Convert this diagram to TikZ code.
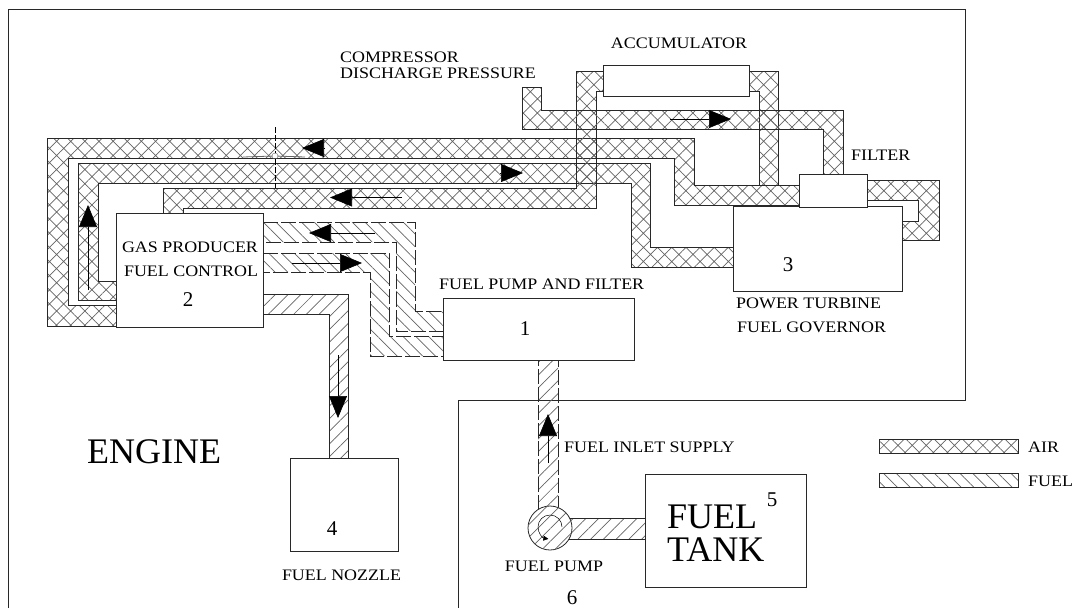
\documentclass[tikz,border=0pt]{standalone}
\usepackage{fontspec}
\usepackage{tikz}
\usetikzlibrary{patterns.meta,arrows.meta}
\setmainfont{Liberation Serif}
\newfontfamily\lblfont[FakeStretch=1.12]{Liberation Serif}
\definecolor{hatchgray}{RGB}{100,100,100}
\definecolor{edgegray}{RGB}{40,40,40}

\begin{document}
\begin{tikzpicture}[x=1pt, y=-1pt, >={Triangle[length=22pt,width=18pt]},
    airpipe/.style={draw=edgegray, line width=0.8pt, pattern={Hatch[angle=45,distance=10pt,line width=0.7pt]}, pattern color=hatchgray},
    fuelline/.style={draw=edgegray, line width=0.8pt, dash pattern=on 15pt off 3pt, pattern={Lines[angle=-45,distance=9pt,line width=0.7pt]}, pattern color=hatchgray},
    nozzleline/.style={draw=edgegray, line width=0.8pt, pattern={Lines[angle=45,distance=9pt,line width=0.7pt]}, pattern color=hatchgray},
    box/.style={rectangle, draw=edgegray, fill=white, line width=0.9pt, inner sep=0pt, outer sep=0pt},
    lbl/.style={inner sep=0pt, font=\lblfont\fontsize{16}{18}\selectfont},
    num/.style={inner sep=0pt, font=\fontsize{21}{23}\selectfont},
    big/.style={inner sep=0pt, font=\fontsize{36}{33}\selectfont},
    flow/.style={->, line width=0.6pt}]

\useasboundingbox (0,0) rectangle (1081,608);

% engine outline
\draw [edgegray, line width=0.9pt] (8,608) -- (8,9) -- (965,9) -- (965,400) -- (458,400) -- (458,608);

% air lines
\draw [airpipe] (116,326) -- (47,326) -- (47,138.5) -- (694,138.5) -- (694,185) -- (799,185) -- (799,205) -- (674,205) -- (674,158) -- (68,158) -- (68,305) -- (116,305) -- cycle;
\draw [airpipe] (116,300) -- (78,300) -- (78,163) -- (650,163) -- (650,247) -- (733,247) -- (733,267) -- (631,267) -- (631,183) -- (98,183) -- (98,281) -- (116,281) -- cycle;
\draw [airpipe] (163,213) -- (163,188) -- (576,188) -- (576,71.5) -- (603,71.5) -- (603,91) -- (596,91) -- (596,208) -- (183,208) -- (183,213);
\draw [airpipe] (749,71.5) -- (778,71.5) -- (778,185) -- (759,185) -- (759,91) -- (749,91);
\draw [airpipe] (522,87) -- (541,87) -- (541,110) -- (843,110) -- (843,174) -- (823,174) -- (823,129) -- (522,129) -- cycle;
\draw [airpipe] (867,180) -- (939,180) -- (939,240) -- (902,240) -- (902,221) -- (918,221) -- (918,200) -- (867,200);

% fuel lines
\draw [fuelline] (263,222) -- (415,222) -- (415,311) -- (443,311) -- (443,331) -- (396,331) -- (396,242) -- (263,242);
\draw [fuelline] (263,253) -- (389,253) -- (389,336) -- (443,336) -- (443,356) -- (370,356) -- (370,272) -- (263,272);
\draw [nozzleline] (263,294) -- (348,294) -- (348,458) -- (329,458) -- (329,314) -- (263,314);
\draw [nozzleline, dash pattern=on 15pt off 3pt] (538,510) -- (538,360) -- (558,360) -- (558,510);
\draw [nozzleline] (565,518) -- (645,518) -- (645,539) -- (565,539);

% components
\node [box, minimum width=147pt, minimum height=114pt] (fuelcontrol) at (189.5,270) {};
\node [box, minimum width=191pt, minimum height=62pt] (fuelfilter) at (538.5,329) {};
\node [box, minimum width=169pt, minimum height=85pt] (governor) at (817.5,248.5) {};
\node [box, minimum width=146pt, minimum height=31pt] (accumulator) at (676,80.5) {};
\node [box, minimum width=68pt, minimum height=33pt] (filter) at (833,190.5) {};
\node [box, minimum width=108pt, minimum height=93pt] (nozzle) at (344,504.5) {};
\node [box, minimum width=161pt, minimum height=113pt] (tank) at (725.5,530.5) {};
\node [circle, draw=edgegray, line width=0.8pt, inner sep=0pt, outer sep=0pt, minimum size=44pt, fill=white, postaction={pattern={Lines[angle=45,distance=9pt,line width=0.7pt]}, pattern color=hatchgray}] (pump) at (550,528) {};
\node [circle, inner sep=0pt, outer sep=0pt, minimum size=24pt] (rotor) at (550,527) {};
\draw [-{Triangle[length=5pt,width=5pt]}, line width=0.5pt] (rotor.east) arc[start angle=0, end angle=262, radius=12pt];

% flow arrows
\coordinate (outerTail) at (325,148);   \coordinate (outerTip) at (302,148);
\coordinate (innerTail) at (500,173);   \coordinate (innerTip) at (523,173);
\coordinate (accTail) at (402,197.5);   \coordinate (accTip) at (330,197.5);
\coordinate (pressTail) at (670,119);   \coordinate (pressTip) at (731,119);
\coordinate (riseTail) at (88,290);     \coordinate (riseTip) at (88,205);
\coordinate (retTail) at (375,233);     \coordinate (retTip) at (309,233);
\coordinate (feedTail) at (292,263);    \coordinate (feedTip) at (362,263);
\coordinate (dropTail) at (338,355);    \coordinate (dropTip) at (338,418);
\coordinate (inletTail) at (548,463);   \coordinate (inletTip) at (548,414);
\foreach \tl/\tp in {outerTail/outerTip, innerTail/innerTip, accTail/accTip, pressTail/pressTip, riseTail/riseTip, retTail/retTip, feedTail/feedTip, dropTail/dropTip, inletTail/inletTip}
    \draw [flow] (\tl) -- (\tp);

% cursor mark
\node [circle, draw=hatchgray, inner sep=0pt, minimum size=6pt] (cursor) at (275,156) {};
\draw [line width=0.5pt, dash pattern=on 6pt off 2pt] (275,127) -- (cursor) -- (275,188);
\draw [hatchgray, line width=0.8pt] (243,157) -- (cursor) -- (305,157);

% legend
\node [rectangle, airpipe, inner sep=0pt, minimum width=139pt, minimum height=14pt] (airkey) at (948.5,446) {};
\node [rectangle, nozzleline, pattern={Lines[angle=-45,distance=9pt,line width=0.7pt]}, inner sep=0pt, minimum width=139pt, minimum height=14pt] (fuelkey) at (948.5,480) {};
\node [lbl, anchor=west] (airtext) at (1028,447) {AIR};
\node [lbl, anchor=west] (fueltext) at (1028,481) {FUEL};

% labels
\node [lbl] (gasline) at (190,247) {GAS PRODUCER};
\node [lbl] (controlline) at (191,271) {FUEL CONTROL};
\node [num] (two) at (188,300) {2};
\node [num] (one) at (525,329) {1};
\node [num] (three) at (788,265) {3};
\node [num] (four) at (332,529) {4};
\node [num] (five) at (772,500) {5};
\node [num] (six) at (572,598) {6};
\node [lbl, anchor=west] (compline) at (340,57) {COMPRESSOR};
\node [lbl, anchor=west] (dischline) at (340,73) {DISCHARGE PRESSURE};
\node [lbl] (acclabel) at (679,43) {ACCUMULATOR};
\node [lbl, anchor=west] (filtlabel) at (851,155) {FILTER};
\node [lbl, anchor=west] (pumpfilter) at (439,284) {FUEL PUMP AND FILTER};
\node [lbl, anchor=west] (powerline) at (736,303) {POWER TURBINE};
\node [lbl, anchor=west] (govline) at (737,327) {FUEL GOVERNOR};
\node [lbl] (nozlabel) at (341.5,575) {FUEL NOZZLE};
\node [lbl, anchor=west] (inletlabel) at (564,447) {FUEL INLET SUPPLY};
\node [lbl] (pumplabel) at (554,566) {FUEL PUMP};
\node [big, anchor=west] (engine) at (87,452) {ENGINE};
\node [big, anchor=west, align=left] (tanklabel) at (667,533) {FUEL\\TANK};

\end{tikzpicture}
\end{document}
